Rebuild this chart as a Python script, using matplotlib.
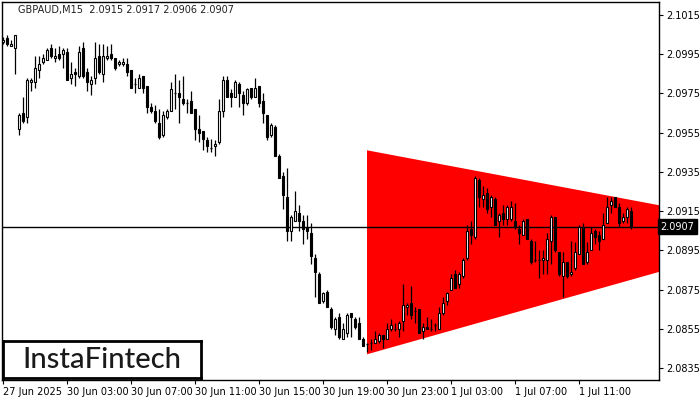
import matplotlib
matplotlib.use("Agg")
import matplotlib.pyplot as plt
from matplotlib.patches import Rectangle

# GBPAUD M15 candles (oldest first)
opens = [2.1001, 2.1003, 2.0999, 2.0998, 2.0957, 2.0965, 2.0963, 2.0981, 2.0981, 2.0987,
         2.0991, 2.0992, 2.0998, 2.0993, 2.0995, 2.0995, 2.0996, 2.0983, 2.0986, 2.0984,
         2.0998, 2.0986, 2.0980, 2.0983, 2.0994, 2.0985, 2.0993, 2.0995, 2.0993, 2.0990,
         2.0990, 2.0990, 2.0987, 2.0980, 2.0978, 2.0984, 2.0979, 2.0968, 2.0966, 2.0960,
         2.0954, 2.0963, 2.0966, 2.0975, 2.0975, 2.0972, 2.0970, 2.0971, 2.0967, 2.0957,
         2.0956, 2.0951, 2.0947, 2.0948, 2.0950, 2.0966, 2.0982, 2.0975, 2.0973, 2.0980,
         2.0974, 2.0970, 2.0978, 2.0973, 2.0979, 2.0971, 2.0964, 2.0954, 2.0958, 2.0943,
         2.0933, 2.0922, 2.0905, 2.0910, 2.0914, 2.0910, 2.0907, 2.0904, 2.0891, 2.0883,
         2.0869, 2.0874, 2.0865, 2.0855, 2.0861, 2.0850, 2.0853, 2.0863, 2.0860, 2.0858,
         2.0850, 2.0847, 2.0848, 2.0848, 2.0849, 2.0852, 2.0850, 2.0855, 2.0855, 2.0855,
         2.0859, 2.0866, 2.0868, 2.0864, 2.0865, 2.0854, 2.0856, 2.0855, 2.0857, 2.0855,
         2.0863, 2.0869, 2.0875, 2.0883, 2.0878, 2.0882, 2.0891, 2.0906, 2.0902, 2.0931,
         2.0921, 2.0924, 2.0917, 2.0921, 2.0910, 2.0914, 2.0911, 2.0911, 2.0910, 2.0906,
         2.0903, 2.0911, 2.0900, 2.0890, 2.0890, 2.0890, 2.0890, 2.0900, 2.0912, 2.0894,
         2.0882, 2.0889, 2.0883, 2.0886, 2.0893, 2.0907, 2.0889, 2.0895, 2.0905, 2.0903,
         2.0901, 2.0909, 2.0918, 2.0922, 2.0917, 2.0910, 2.0912, 2.0915]
highs = [2.1004, 2.1005, 2.1002, 2.1005, 2.0965, 2.0973, 2.0983, 2.0983, 2.0994, 2.0994,
         2.0995, 2.0998, 2.1000, 2.0998, 2.0999, 2.0998, 2.0998, 2.0991, 2.0988, 2.0999,
         2.1001, 2.0988, 2.0984, 2.1001, 2.1000, 2.1000, 2.0999, 2.1000, 2.0993, 2.0992,
         2.0993, 2.0993, 2.0987, 2.0983, 2.0985, 2.0984, 2.0979, 2.0970, 2.0969, 2.0967,
         2.0966, 2.0967, 2.0981, 2.0985, 2.0982, 2.0984, 2.0972, 2.0976, 2.0967, 2.0964,
         2.0956, 2.0953, 2.0952, 2.0951, 2.0972, 2.0984, 2.0984, 2.0977, 2.0982, 2.0981,
         2.0976, 2.0978, 2.0978, 2.0983, 2.0979, 2.0975, 2.0964, 2.0960, 2.0959, 2.0944,
         2.0935, 2.0937, 2.0913, 2.0925, 2.0918, 2.0913, 2.0913, 2.0909, 2.0893, 2.0884,
         2.0874, 2.0875, 2.0866, 2.0861, 2.0863, 2.0858, 2.0863, 2.0863, 2.0861, 2.0861,
         2.0851, 2.0848, 2.0850, 2.0854, 2.0853, 2.0852, 2.0858, 2.0860, 2.0858, 2.0859,
         2.0878, 2.0868, 2.0877, 2.0866, 2.0865, 2.0858, 2.0861, 2.0860, 2.0858, 2.0866,
         2.0871, 2.0874, 2.0883, 2.0885, 2.0884, 2.0891, 2.0908, 2.0910, 2.0933, 2.0932,
         2.0928, 2.0927, 2.0923, 2.0922, 2.0914, 2.0918, 2.0918, 2.0920, 2.0919, 2.0908,
         2.0911, 2.0911, 2.0901, 2.0900, 2.0895, 2.0895, 2.0904, 2.0913, 2.0912, 2.0894,
         2.0894, 2.0889, 2.0900, 2.0899, 2.0908, 2.0909, 2.0899, 2.0907, 2.0906, 2.0905,
         2.0914, 2.0922, 2.0922, 2.0922, 2.0919, 2.0914, 2.0917, 2.0917]
lows = [2.1000, 2.0999, 2.0999, 2.0985, 2.0954, 2.0960, 2.0960, 2.0976, 2.0978, 2.0983,
        2.0990, 2.0992, 2.0993, 2.0991, 2.0992, 2.0988, 2.0982, 2.0980, 2.0979, 2.0983,
        2.0983, 2.0976, 2.0974, 2.0980, 2.0985, 2.0981, 2.0992, 2.0992, 2.0987, 2.0989,
        2.0989, 2.0984, 2.0978, 2.0975, 2.0978, 2.0975, 2.0965, 2.0965, 2.0960, 2.0952,
        2.0953, 2.0962, 2.0966, 2.0967, 2.0960, 2.0969, 2.0965, 2.0965, 2.0951, 2.0950,
        2.0946, 2.0945, 2.0945, 2.0943, 2.0949, 2.0963, 2.0973, 2.0968, 2.0973, 2.0968,
        2.0964, 2.0969, 2.0972, 2.0973, 2.0968, 2.0960, 2.0951, 2.0953, 2.0943, 2.0932,
        2.0916, 2.0900, 2.0900, 2.0910, 2.0905, 2.0898, 2.0901, 2.0888, 2.0871, 2.0868,
        2.0868, 2.0866, 2.0855, 2.0852, 2.0850, 2.0850, 2.0851, 2.0851, 2.0855, 2.0850,
        2.0846, 2.0843, 2.0844, 2.0848, 2.0848, 2.0845, 2.0850, 2.0854, 2.0854, 2.0851,
        2.0854, 2.0862, 2.0860, 2.0858, 2.0853, 2.0850, 2.0855, 2.0854, 2.0854, 2.0855,
        2.0862, 2.0867, 2.0875, 2.0876, 2.0876, 2.0881, 2.0890, 2.0898, 2.0901, 2.0917,
        2.0917, 2.0914, 2.0912, 2.0908, 2.0902, 2.0908, 2.0908, 2.0910, 2.0906, 2.0898,
        2.0903, 2.0901, 2.0888, 2.0889, 2.0881, 2.0883, 2.0883, 2.0888, 2.0894, 2.0882,
        2.0871, 2.0881, 2.0882, 2.0885, 2.0893, 2.0888, 2.0888, 2.0895, 2.0898, 2.0895,
        2.0901, 2.0909, 2.0914, 2.0917, 2.0907, 2.0909, 2.0909, 2.0906]
closes = [2.1002, 2.1000, 2.1000, 2.1005, 2.0964, 2.0961, 2.0982, 2.0982, 2.0988, 2.0990,
          2.0993, 2.0997, 2.0994, 2.0994, 2.0993, 2.0997, 2.0982, 2.0985, 2.0985, 2.0996,
          2.0984, 2.0981, 2.0982, 2.0993, 2.0986, 2.0994, 2.0994, 2.0993, 2.0988, 2.0991,
          2.0991, 2.0986, 2.0978, 2.0980, 2.0983, 2.0978, 2.0968, 2.0966, 2.0961, 2.0953,
          2.0964, 2.0966, 2.0977, 2.0975, 2.0973, 2.0970, 2.0970, 2.0965, 2.0957, 2.0955,
          2.0952, 2.0948, 2.0947, 2.0949, 2.0966, 2.0982, 2.0973, 2.0973, 2.0981, 2.0975,
          2.0970, 2.0977, 2.0973, 2.0978, 2.0970, 2.0965, 2.0953, 2.0959, 2.0943, 2.0932,
          2.0923, 2.0905, 2.0912, 2.0915, 2.0910, 2.0906, 2.0905, 2.0892, 2.0884, 2.0868,
          2.0873, 2.0866, 2.0856, 2.0860, 2.0851, 2.0855, 2.0862, 2.0861, 2.0856, 2.0850,
          2.0846, 2.0847, 2.0848, 2.0850, 2.0852, 2.0850, 2.0855, 2.0857, 2.0855, 2.0858,
          2.0867, 2.0867, 2.0862, 2.0864, 2.0853, 2.0856, 2.0855, 2.0855, 2.0857, 2.0863,
          2.0868, 2.0873, 2.0881, 2.0876, 2.0883, 2.0890, 2.0905, 2.0903, 2.0932, 2.0922,
          2.0923, 2.0916, 2.0922, 2.0908, 2.0913, 2.0911, 2.0917, 2.0917, 2.0907, 2.0904,
          2.0910, 2.0901, 2.0889, 2.0890, 2.0890, 2.0891, 2.0901, 2.0912, 2.0895, 2.0883,
          2.0889, 2.0882, 2.0884, 2.0894, 2.0907, 2.0888, 2.0894, 2.0904, 2.0902, 2.0900,
          2.0908, 2.0917, 2.0920, 2.0917, 2.0909, 2.0912, 2.0916, 2.0907]

# symmetrical triangle (bar index, price)
tri_bars = [91, 164]
tri_upper = [2.0946, 2.0918]
tri_lower = [2.0842, 2.0884]

last_price = 2.0907
yticks = [2.1015, 2.0995, 2.0975, 2.0955, 2.0935, 2.0915, 2.0895, 2.0875, 2.0855, 2.0835]
xtick_bars = [0, 16, 32, 48, 64, 80, 96, 112, 128, 144]
xtick_labels = ["27 Jun 2025", "30 Jun 03:00", "30 Jun 07:00", "30 Jun 11:00", "30 Jun 15:00",
                "30 Jun 19:00", "30 Jun 23:00", "1 Jul 03:00", "1 Jul 07:00", "1 Jul 11:00"]
title = "GBPAUD,M15  2.0915 2.0917 2.0906 2.0907"

fig = plt.figure(figsize=(7, 4), dpi=100)
ax = fig.add_axes([2 / 700, 20 / 400, 657 / 700, 378 / 400])
ax.set_xlim(-0.25, 164)
ax.set_ylim(2.08289, 2.10216)

# triangle
xs = [tri_bars[0], tri_bars[1], tri_bars[1], tri_bars[0]]
ys = [tri_upper[0], tri_upper[1], tri_lower[1], tri_lower[0]]
ax.fill(xs, ys, color="#ff0000", lw=0, zorder=1)

ax.axhline(last_price, color="black", lw=1, zorder=2)

w = 0.55
for i in range(len(opens)):
    o, h, l, c = opens[i], highs[i], lows[i], closes[i]
    ax.vlines(i, l, h, color="black", lw=0.9, zorder=3)
    if abs(c - o) < 1e-9:
        ax.hlines(o, i - w / 2, i + w / 2, color="black", lw=0.9, zorder=4)
    else:
        fc = "white" if c > o else "black"
        ax.add_patch(Rectangle((i - w / 2, min(o, c)), w, abs(c - o),
                               facecolor=fc, edgecolor="black", lw=0.8, zorder=4))

for s in ax.spines.values():
    s.set_linewidth(1)
    s.set_color("black")

ax.yaxis.tick_right()
ax.set_yticks(yticks)
ax.set_yticklabels(["%.4f" % v for v in yticks])
ax.tick_params(axis="y", direction="out", length=3, pad=2, labelsize=7, colors="black")
ax.set_xticks(xtick_bars)
ax.set_xticklabels(xtick_labels, ha="left")
ax.tick_params(axis="x", direction="out", length=3, pad=2, labelsize=7, colors="black")

# current price tag
ax.text(1.002, last_price, "2.0907", transform=ax.get_yaxis_transform(), ha="left", va="center",
        fontsize=7, color="white", zorder=10,
        bbox=dict(boxstyle="square,pad=0.25", fc="black", ec="black"), clip_on=False)

fig.text(18 / 700, 1 - 10 / 400, title, fontsize=7, color="#202020", ha="left", va="center")

# logo box
ax_logo = fig.add_axes([3 / 700, 1 - 378 / 400, 198 / 700, 37 / 400])
ax_logo.set_xticks([])
ax_logo.set_yticks([])
for s in ax_logo.spines.values():
    s.set_linewidth(2)
ax_logo.text(0.5, 0.48, "InstaFintech", ha="center", va="center", fontsize=21,
             family="Lato", weight="medium", color="#1a1a1a", transform=ax_logo.transAxes)

fig.savefig("out.png", dpi=100)
